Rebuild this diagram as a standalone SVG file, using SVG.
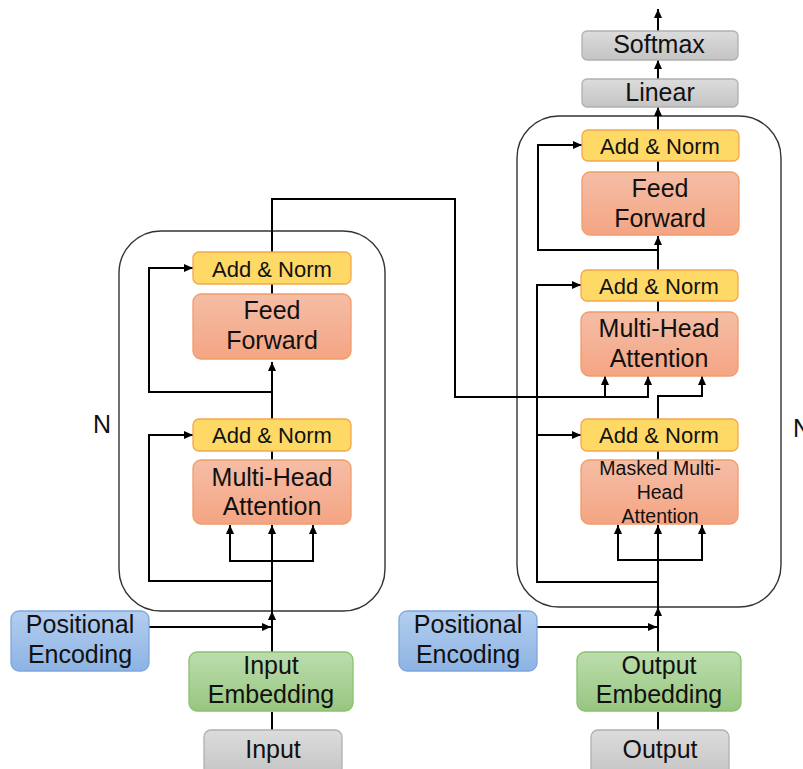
<svg xmlns="http://www.w3.org/2000/svg" width="803" height="769" viewBox="0 0 803 769">
  <style>
    text { font-family: "Liberation Sans", Arial, sans-serif; fill: #111; text-anchor: middle; }
    .t25 { font-size: 25px; }
    .t22 { font-size: 22px; }
    .t19 { font-size: 19.5px; }
    .block { fill: none; stroke: #333; stroke-width: 1.4; }
    .norm { fill: #FFD966; stroke: #F4A64E; stroke-width: 1.3; }
    .ff { fill: url(#gOrange); stroke: #F19C6B; stroke-width: 1.3; }
    .pos { fill: url(#gBlue); stroke: #7EA6E0; stroke-width: 1.3; }
    .emb { fill: url(#gGreen); stroke: #8CC070; stroke-width: 1.3; }
    .gray { fill: url(#gGray); stroke: #B0B0B0; stroke-width: 1.3; }
    .wire { fill: none; stroke: #000; stroke-width: 2; }
    .arrow { marker-end: url(#ah); }
  </style>
  <defs>
    <linearGradient id="gOrange" x1="0" y1="0" x2="0" y2="1">
      <stop offset="0" stop-color="#F5BDA6"/>
      <stop offset="1" stop-color="#F4A583"/>
    </linearGradient>
    <linearGradient id="gBlue" x1="0" y1="0" x2="0" y2="1">
      <stop offset="0" stop-color="#B3CEEF"/>
      <stop offset="1" stop-color="#8DB3E3"/>
    </linearGradient>
    <linearGradient id="gGreen" x1="0" y1="0" x2="0" y2="1">
      <stop offset="0" stop-color="#BCDDAD"/>
      <stop offset="1" stop-color="#97C680"/>
    </linearGradient>
    <linearGradient id="gGray" x1="0" y1="0" x2="0" y2="1">
      <stop offset="0" stop-color="#DCDCDC"/>
      <stop offset="1" stop-color="#C4C4C4"/>
    </linearGradient>
    <marker id="ah" viewBox="0 0 9 8" refX="9" refY="4" markerWidth="9" markerHeight="8" markerUnits="userSpaceOnUse" orient="auto">
      <path d="M0,0 L9,4 L0,8 z" fill="#000"/>
    </marker>
  </defs>

  <rect width="803" height="769" fill="#fff"/>

  <!-- repeated stacks -->
  <g id="encoder-stack">
    <rect class="block" x="119" y="231" width="266" height="380" rx="42"/>
    <text class="t25" x="102" y="433">N</text>
  </g>
  <g id="decoder-stack">
    <rect class="block" x="517" y="116" width="264" height="491" rx="42"/>
    <text class="t25" x="793" y="437" style="text-anchor:start">N</text>
  </g>

  <!-- connectors -->
  <g id="connectors">
    <!-- encoder side -->
    <path class="wire" d="M272,730 V712"/>
    <path class="wire arrow" d="M272,652 V611"/>
    <path class="wire arrow" d="M272,611 V525"/>
    <path class="wire arrow" d="M149,627 H271"/>
    <path class="wire arrow" d="M272,581 H149 V435 H193"/>
    <path class="wire arrow" d="M272,561 H230 V525"/>
    <path class="wire arrow" d="M272,561 H313 V525"/>
    <path class="wire" d="M272,460 V451"/>
    <path class="wire arrow" d="M272,419 V362"/>
    <path class="wire arrow" d="M272,392 H149 V268 H193"/>
    <path class="wire" d="M272,294 V284"/>
    <path class="wire arrow" d="M272,252 V199 H455 V397 H648 V376"/>
    <path class="wire arrow" d="M605,397 V376"/>
    <!-- decoder side -->
    <path class="wire" d="M658,730 V712"/>
    <path class="wire arrow" d="M658,652 V607"/>
    <path class="wire arrow" d="M658,607 V525"/>
    <path class="wire arrow" d="M537,627 H657"/>
    <path class="wire arrow" d="M658,582 H537 V285 H581"/>
    <path class="wire arrow" d="M537,435 H581"/>
    <path class="wire arrow" d="M658,560 H618 V525"/>
    <path class="wire arrow" d="M658,560 H702 V525"/>
    <path class="wire" d="M658,460 V451"/>
    <path class="wire arrow" d="M658,419 V396 H702 V376"/>
    <path class="wire" d="M658,312 V301"/>
    <path class="wire arrow" d="M658,270 V236"/>
    <path class="wire arrow" d="M658,250 H538 V145 H582"/>
    <path class="wire" d="M658,172 V161"/>
    <path class="wire arrow" d="M658,130 V107"/>
    <path class="wire arrow" d="M658,79 V60"/>
    <path class="wire arrow" d="M658,31 V9"/>
  </g>

  <!-- encoder nodes -->
  <g id="enc-input">
    <rect class="gray" x="204" y="730" width="138" height="46" rx="7"/>
    <text class="t25" x="273" y="758">Input</text>
  </g>
  <g id="enc-embedding">
    <rect class="emb" x="189" y="652" width="164" height="59" rx="8"/>
    <text class="t25" x="271" y="674">Input</text>
    <text class="t25" x="271" y="703">Embedding</text>
  </g>
  <g id="enc-positional">
    <rect class="pos" x="11" y="611" width="138" height="60" rx="8"/>
    <text class="t25" x="80" y="633">Positional</text>
    <text class="t25" x="80" y="663">Encoding</text>
  </g>
  <g id="enc-attention">
    <rect class="ff" x="193" y="460" width="158" height="64" rx="8"/>
    <text class="t25" x="272" y="486">Multi-Head</text>
    <text class="t25" x="272" y="515">Attention</text>
  </g>
  <g id="enc-norm1">
    <rect class="norm" x="193" y="419" width="158" height="32" rx="6"/>
    <text class="t22" x="272" y="443">Add &amp; Norm</text>
  </g>
  <g id="enc-feedforward">
    <rect class="ff" x="193" y="294" width="158" height="65" rx="8"/>
    <text class="t25" x="272" y="319">Feed</text>
    <text class="t25" x="272" y="349">Forward</text>
  </g>
  <g id="enc-norm2">
    <rect class="norm" x="193" y="252" width="158" height="32" rx="6"/>
    <text class="t22" x="272" y="277">Add &amp; Norm</text>
  </g>

  <!-- decoder nodes -->
  <g id="dec-output">
    <rect class="gray" x="591" y="730" width="138" height="46" rx="7"/>
    <text class="t25" x="660" y="758">Output</text>
  </g>
  <g id="dec-embedding">
    <rect class="emb" x="577" y="652" width="164" height="59" rx="8"/>
    <text class="t25" x="659" y="674">Output</text>
    <text class="t25" x="659" y="703">Embedding</text>
  </g>
  <g id="dec-positional">
    <rect class="pos" x="399" y="611" width="138" height="60" rx="8"/>
    <text class="t25" x="468" y="633">Positional</text>
    <text class="t25" x="468" y="663">Encoding</text>
  </g>
  <g id="dec-masked-attention">
    <rect class="ff" x="581" y="460" width="157" height="64" rx="8"/>
    <text class="t19" x="660" y="475">Masked Multi-</text>
    <text class="t19" x="660" y="499">Head</text>
    <text class="t19" x="660" y="523">Attention</text>
  </g>
  <g id="dec-norm1">
    <rect class="norm" x="581" y="419" width="157" height="32" rx="6"/>
    <text class="t22" x="659" y="443">Add &amp; Norm</text>
  </g>
  <g id="dec-attention">
    <rect class="ff" x="581" y="312" width="157" height="64" rx="8"/>
    <text class="t25" x="659" y="337">Multi-Head</text>
    <text class="t25" x="659" y="367">Attention</text>
  </g>
  <g id="dec-norm2">
    <rect class="norm" x="581" y="270" width="157" height="31" rx="6"/>
    <text class="t22" x="659" y="294">Add &amp; Norm</text>
  </g>
  <g id="dec-feedforward">
    <rect class="ff" x="582" y="172" width="157" height="63" rx="8"/>
    <text class="t25" x="660" y="197">Feed</text>
    <text class="t25" x="660" y="227">Forward</text>
  </g>
  <g id="dec-norm3">
    <rect class="norm" x="582" y="130" width="157" height="31" rx="6"/>
    <text class="t22" x="660" y="154">Add &amp; Norm</text>
  </g>
  <g id="linear">
    <rect class="gray" x="582" y="79" width="156" height="28" rx="5"/>
    <text class="t25" x="660" y="101">Linear</text>
  </g>
  <g id="softmax">
    <rect class="gray" x="582" y="31" width="156" height="29" rx="5"/>
    <text class="t25" x="659" y="53">Softmax</text>
  </g>
</svg>
